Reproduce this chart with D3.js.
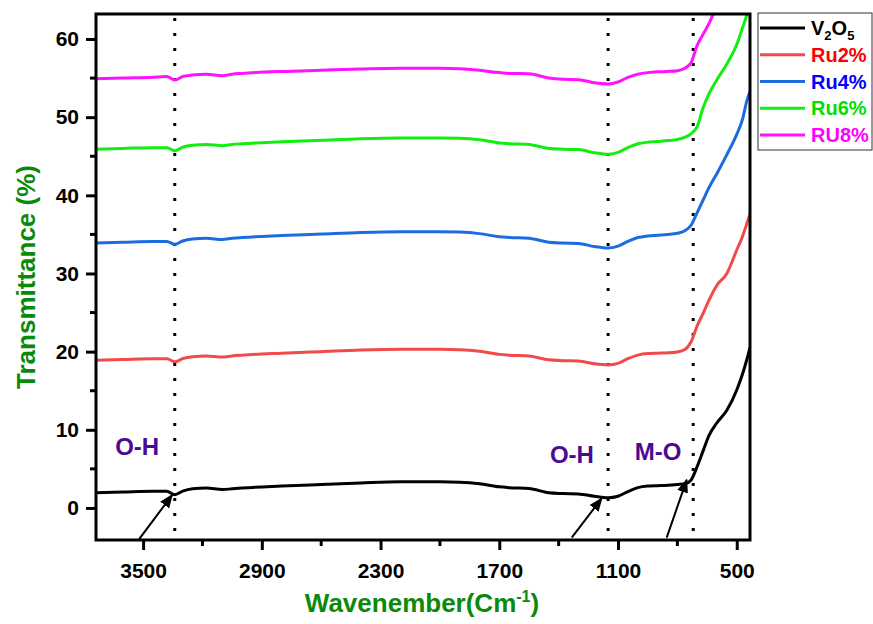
<!DOCTYPE html>
<html>
<head>
<meta charset="utf-8">
<script src="https://cdn.jsdelivr.net/npm/d3@7/dist/d3.min.js"></script>
<style>
  body { margin: 0; background: #fff; }
  svg { font-family: "Liberation Sans", Arial, sans-serif; font-weight: bold; }
</style>
</head>
<body>
<svg id="chart" width="873" height="624"></svg>
<script>
// -- DATA --
const wavenumbers = [3738, 3600, 3450, 3380, 3340, 3300, 3250, 3180, 3100, 3050, 3000, 2800, 2600, 2400, 2200, 2000, 1900, 1800, 1700, 1650, 1550, 1450, 1380, 1300, 1220, 1150, 1100, 1050, 1000, 950, 900, 850, 800, 760, 730, 700, 670, 640, 600, 550, 500, 470, 450, 433];
const v2o5 = [1.95, 2.05, 2.15, 2.15, 1.7, 2.15, 2.45, 2.55, 2.35, 2.45, 2.55, 2.8, 3.0, 3.2, 3.35, 3.35, 3.3, 3.1, 2.7, 2.6, 2.5, 1.95, 1.85, 1.8, 1.5, 1.3, 1.5, 2.1, 2.6, 2.8, 2.85, 2.9, 3.0, 3.1, 3.6, 5.3, 7.3, 9.3, 10.9, 12.5, 15.1, 17.2, 18.9, 20.5];
const ru2 = [18.9, 19.0, 19.1, 19.1, 18.7, 19.1, 19.35, 19.45, 19.3, 19.45, 19.55, 19.8, 20.0, 20.2, 20.3, 20.3, 20.25, 20.05, 19.65, 19.55, 19.45, 18.95, 18.85, 18.8, 18.45, 18.3, 18.5, 19.1, 19.55, 19.75, 19.8, 19.85, 19.95, 20.3, 21.3, 23.3, 24.9, 26.6, 28.5, 30.0, 33.0, 34.8, 36.3, 37.6];
const ru4 = [33.9, 34.0, 34.1, 34.1, 33.75, 34.15, 34.4, 34.5, 34.35, 34.5, 34.6, 34.85, 35.05, 35.25, 35.35, 35.35, 35.3, 35.1, 34.7, 34.6, 34.5, 34.0, 33.9, 33.85, 33.45, 33.25, 33.5, 34.1, 34.6, 34.8, 34.9, 35.0, 35.15, 35.5, 36.2, 37.8, 39.4, 41.0, 42.8, 45.2, 47.8, 49.8, 52.0, 53.3];
const ru6 = [45.9, 46.0, 46.1, 46.1, 45.7, 46.15, 46.4, 46.5, 46.35, 46.5, 46.6, 46.85, 47.05, 47.25, 47.35, 47.35, 47.3, 47.1, 46.7, 46.6, 46.5, 46.0, 45.9, 45.85, 45.45, 45.25, 45.5, 46.1, 46.6, 46.8, 46.9, 47.0, 47.15, 47.45, 47.9, 48.8, 51.2, 53.0, 54.8, 56.8, 59.3, 61.5, 63.0, 64.5];
const ru8 = [54.9, 55.0, 55.1, 55.2, 54.75, 55.2, 55.4, 55.5, 55.3, 55.5, 55.6, 55.85, 56.0, 56.15, 56.25, 56.25, 56.2, 56.0, 55.7, 55.6, 55.55, 55.0, 54.85, 54.8, 54.4, 54.25, 54.5, 55.1, 55.5, 55.7, 55.8, 55.85, 55.95, 56.3, 57.0, 59.2, 60.6, 62.0, 64.3, 66.5, 68.5, 70.0, 71.0, 72.0];

const seriesLabels = ["V2O5", "Ru2%", "Ru4%", "Ru6%", "RU8%"];
const lineColors = ["#000000", "#f24a4a", "#1c6ce0", "#12ee12", "#ff12ff"];
const textColors = ["#000000", "#ff0000", "#0000ff", "#00e000", "#ff00ff"];

const xTicks = [3500, 2900, 2300, 1700, 1100, 500];
const xMinorTicks = [3200, 2600, 2000, 1400, 800];
const yTicks = [0, 10, 20, 30, 40, 50, 60];
const yMinorTicks = [5, 15, 25, 35, 45, 55];

// band markers: dotted guide lines, labels and arrows (data units)
const bandLines = [3340, 1150, 720];
const bandLabels = ["O-H", "O-H", "M-O"];
const bandLabelWn = [3641, 1444, 1015];
const bandLabelT = [6.8, 5.75, 6.1];
const arrowTipWn = [3353, 1182, 753];
const arrowTipT = [1.66, 1.24, 3.6];
const arrowTailWn = [3520, 1334, 854];
const arrowTailT = [-4.0, -3.8, -3.8];

// -- LAYOUT --
const margin = { left: 96, right: 123, top: 14, bottom: 84 };
const width = 873, height = 624;
const svg = d3.select("#chart");

const x = d3.scaleLinear()
  .domain([3738, 433]) // wavenumber runs high -> low
  .range([margin.left, width - margin.right]);
const y = d3.scaleLinear()
  .domain([-4.1, 63.2])
  .range([height - margin.bottom, margin.top]);

const series = [v2o5, ru2, ru4, ru6, ru8].map((vals, i) => ({
  label: seriesLabels[i],
  color: lineColors[i],
  textColor: textColors[i],
  points: wavenumbers.map((w, j) => ({ w: w, t: vals[j] }))
}));

// clip lines to plot box
svg.append("clipPath").attr("id", "plotClip")
  .append("rect")
  .attr("x", x.range()[0])
  .attr("y", y.range()[1])
  .attr("width", x.range()[1] - x.range()[0])
  .attr("height", y.range()[0] - y.range()[1]);

// dotted guide lines
svg.append("g")
  .selectAll("line")
  .data(bandLines)
  .join("line")
  .attr("x1", d => x(d)).attr("x2", d => x(d))
  .attr("y1", y.range()[1] + 4).attr("y2", y.range()[0])
  .attr("stroke", "#000")
  .attr("stroke-width", 3)
  .attr("stroke-dasharray", "3 12");

// curves
const line = d3.line()
  .x(d => x(d.w))
  .y(d => y(d.t))
  .curve(d3.curveMonotoneX);

svg.append("g")
  .attr("clip-path", "url(#plotClip)")
  .selectAll("path")
  .data(series)
  .join("path")
  .attr("d", d => line(d.points))
  .attr("fill", "none")
  .attr("stroke", d => d.color)
  .attr("stroke-width", 3)
  .attr("stroke-linejoin", "round");

// axes
const tickFont = "21px";
const xAxis = svg.append("g")
  .attr("transform", `translate(0,${y.range()[0]})`)
  .call(d3.axisBottom(x).tickValues(xTicks).tickSize(10).tickPadding(13).tickFormat(d3.format("d")));
xAxis.append("g")
  .selectAll("line")
  .data(xMinorTicks)
  .join("line")
  .attr("x1", d => x(d)).attr("x2", d => x(d))
  .attr("y1", 0).attr("y2", 6)
  .attr("stroke", "#000");

const yAxis = svg.append("g")
  .attr("transform", `translate(${x.range()[0]},0)`)
  .call(d3.axisLeft(y).tickValues(yTicks).tickSize(10).tickPadding(7));
yAxis.append("g")
  .selectAll("line")
  .data(yMinorTicks)
  .join("line")
  .attr("x1", 0).attr("x2", -6)
  .attr("y1", d => y(d)).attr("y2", d => y(d))
  .attr("stroke", "#000");

[xAxis, yAxis].forEach(ax => {
  ax.select(".domain").remove();
  ax.selectAll("line").attr("stroke-width", 3).attr("stroke", "#000");
  ax.selectAll("text")
    .attr("fill", "#000")
    .style("font-size", tickFont)
    .style("font-weight", "bold")
    .style("font-family", '"Liberation Sans", Arial, sans-serif');
});

// frame
svg.append("rect")
  .attr("x", x.range()[0])
  .attr("y", y.range()[1])
  .attr("width", x.range()[1] - x.range()[0])
  .attr("height", y.range()[0] - y.range()[1])
  .attr("fill", "none")
  .attr("stroke", "#000")
  .attr("stroke-width", 3);

// band labels + arrows
svg.append("defs").append("marker")
  .attr("id", "arrowHead")
  .attr("viewBox", "0 0 10 10")
  .attr("refX", 9).attr("refY", 5)
  .attr("markerWidth", 7).attr("markerHeight", 7)
  .attr("markerUnits", "strokeWidth")
  .attr("orient", "auto")
  .append("path")
  .attr("d", "M0,1 L10,5 L0,9 Z")
  .attr("fill", "#000");

svg.append("g")
  .selectAll("line")
  .data(arrowTipWn)
  .join("line")
  .attr("x1", (d, i) => x(arrowTailWn[i]))
  .attr("y1", (d, i) => y(arrowTailT[i]))
  .attr("x2", (d, i) => x(d))
  .attr("y2", (d, i) => y(arrowTipT[i]))
  .attr("stroke", "#000")
  .attr("stroke-width", 2)
  .attr("marker-end", "url(#arrowHead)");

svg.append("g")
  .selectAll("text")
  .data(bandLabels)
  .join("text")
  .attr("x", (d, i) => x(bandLabelWn[i]))
  .attr("y", (d, i) => y(bandLabelT[i]))
  .attr("fill", "#4b0a94")
  .style("font-size", "24px")
  .text(d => d);

// axis titles
svg.append("text")
  .attr("transform", `translate(35,${(y.range()[0] + y.range()[1]) / 2}) rotate(-90)`)
  .attr("text-anchor", "middle")
  .attr("fill", "#0a8a0a")
  .style("font-size", "26px")
  .text("Transmittance (%)");

const xTitle = svg.append("text")
  .attr("x", 422)
  .attr("y", 612)
  .attr("text-anchor", "middle")
  .attr("fill", "#0a8a0a")
  .style("font-size", "26px");
xTitle.append("tspan").text("Wavenember(Cm");
xTitle.append("tspan").attr("dy", -10).style("font-size", "16px").text("-1");
xTitle.append("tspan").attr("dy", 10).text(")");

// legend
const legend = svg.append("g");
legend.append("rect")
  .attr("x", 758).attr("y", 13)
  .attr("width", 114).attr("height", 137)
  .attr("fill", "#fff")
  .attr("stroke", "#333")
  .attr("stroke-width", 1);

const rowY = d3.scalePoint().domain(seriesLabels).range([28, 135]);
const rows = legend.selectAll("g.row")
  .data(series)
  .join("g")
  .attr("class", "row")
  .attr("transform", d => `translate(0,${rowY(d.label)})`);
rows.append("line")
  .attr("x1", 760).attr("x2", 805)
  .attr("stroke", d => d.color)
  .attr("stroke-width", 3);
rows.each(function (d) {
  const t = d3.select(this).append("text")
    .attr("x", 811).attr("y", 7)
    .attr("fill", d.textColor)
    .style("font-size", "20px");
  if (d.label === "V2O5") {
    t.append("tspan").text("V");
    t.append("tspan").attr("dy", 5).style("font-size", "13px").text("2");
    t.append("tspan").attr("dy", -5).text("O");
    t.append("tspan").attr("dy", 5).style("font-size", "13px").text("5");
  } else {
    t.text(d.label);
  }
});
</script>
</body>
</html>
